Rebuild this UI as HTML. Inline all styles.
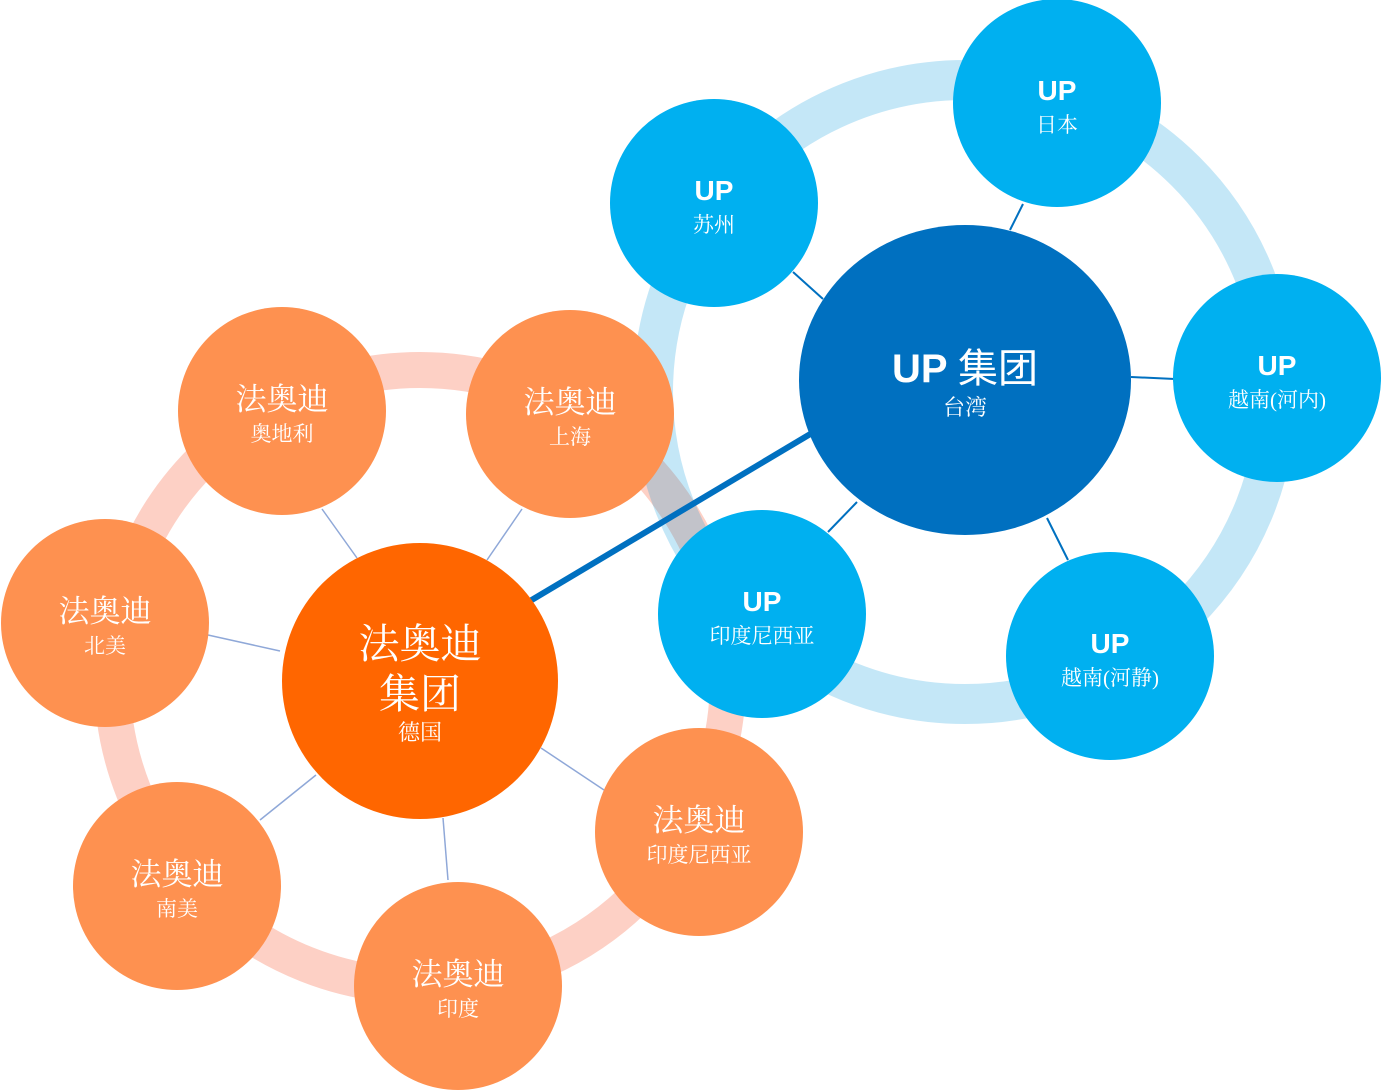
<!DOCTYPE html>
<html><head><meta charset="utf-8"><style>
html,body{margin:0;padding:0;background:#fff;}
svg{display:block;}
text{fill:#fff;text-anchor:middle;}
.cn{font-family:"Liberation Serif","Noto Serif CJK SC",serif;}
.up{font-family:"Liberation Sans","Noto Sans CJK SC",sans-serif;font-weight:bold;}
</style></head><body>
<svg width="1381" height="1091" viewBox="0 0 1381 1091" xmlns="http://www.w3.org/2000/svg">
<circle cx="420" cy="678" r="308" fill="none" stroke="#fdd0c5" stroke-width="36"/>
<circle cx="965" cy="392" r="312" fill="none" stroke="rgba(0,150,220,0.23)" stroke-width="40"/>
<g stroke="#8fa8d8" stroke-width="1.5">
<line x1="322" y1="509" x2="357" y2="558"/><line x1="522" y1="509" x2="487" y2="560"/>
<line x1="208" y1="635" x2="280" y2="651"/><line x1="260" y1="820" x2="316" y2="775"/>
<line x1="443" y1="818" x2="448" y2="880"/><line x1="541" y1="748" x2="604" y2="790"/>
</g>
<g stroke="#0070c0" stroke-width="2">
<line x1="793" y1="272" x2="823" y2="299"/><line x1="1023" y1="204" x2="1010" y2="230"/>
<line x1="1131" y1="377" x2="1175" y2="379"/><line x1="1047" y1="518" x2="1068" y2="560"/>
<line x1="857" y1="502" x2="828" y2="532"/>
</g>
<line x1="530" y1="601" x2="812" y2="433" stroke="#0070c0" stroke-width="6"/>
<g fill="#fe9150">
<circle cx="282" cy="411" r="104"/><circle cx="570" cy="414" r="104"/>
<circle cx="105" cy="623" r="104"/><circle cx="177" cy="886" r="104"/>
<circle cx="458" cy="986" r="104"/><circle cx="699" cy="832" r="104"/>
</g>
<circle cx="420" cy="681" r="138" fill="#ff6600"/>
<ellipse cx="965" cy="380" rx="166" ry="155" fill="#0070c0"/>
<g fill="#00b0f0">
<circle cx="714" cy="203" r="104"/><circle cx="1057" cy="103" r="104"/>
<circle cx="1277" cy="378" r="104"/><circle cx="1110" cy="656" r="104"/>
<circle cx="762" cy="614" r="104"/>
</g>
<g class="cn">
<text x="282" y="410" font-size="31">法奥迪</text><text x="282" y="441" font-size="21">奥地利</text>
<text x="570" y="413" font-size="31">法奥迪</text><text x="570" y="444" font-size="21">上海</text>
<text x="105" y="622" font-size="31">法奥迪</text><text x="105" y="653" font-size="21">北美</text>
<text x="177" y="885" font-size="31">法奥迪</text><text x="177" y="916" font-size="21">南美</text>
<text x="458" y="985" font-size="31">法奥迪</text><text x="458" y="1016" font-size="21">印度</text>
<text x="699" y="831" font-size="31">法奥迪</text><text x="699" y="862" font-size="21">印度尼西亚</text>
<text x="420" y="658" font-size="41">法奥迪</text><text x="420" y="708" font-size="41">集团</text>
<text x="420" y="740" font-size="22">德国</text>
<text x="714" y="232" font-size="21">苏州</text>
<text x="1057" y="132" font-size="21">日本</text>
<text x="1277" y="407" font-size="21">越南(河内)</text>
<text x="1110" y="685" font-size="21">越南(河静)</text>
<text x="762" y="643" font-size="21">印度尼西亚</text>
<text x="965" y="415" font-size="22">台湾</text>
</g>
<g class="up">
<text x="714" y="200" font-size="28">UP</text>
<text x="1057" y="100" font-size="28">UP</text>
<text x="1277" y="375" font-size="28">UP</text>
<text x="1110" y="653" font-size="28">UP</text>
<text x="762" y="611" font-size="28">UP</text>
<text x="965" y="382" font-size="40">UP <tspan font-weight="normal">集团</tspan></text>
</g>
</svg>
</body></html>
